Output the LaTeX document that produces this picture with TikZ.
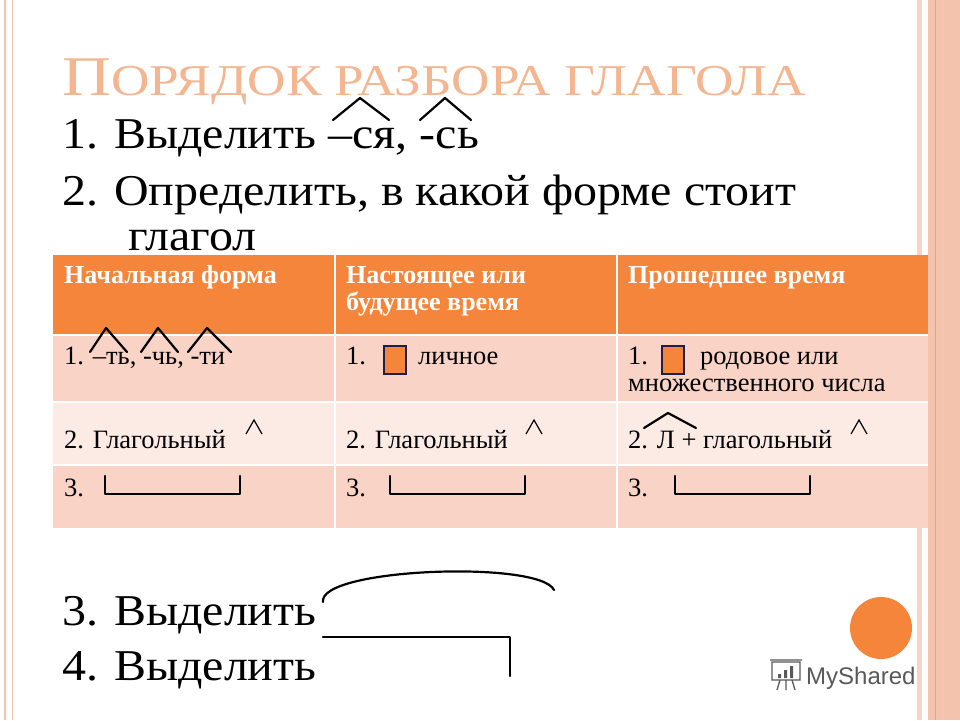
\documentclass[tikz,border=0pt]{standalone}
\usepackage{fontspec}
\setmainfont{Liberation Serif}
\newfontfamily\logofont{Liberation Sans}
\definecolor{ttl}{HTML}{F3B690}
\definecolor{hdr}{HTML}{F5853A}
\definecolor{rowa}{HTML}{F9D4C6}
\definecolor{rowb}{HTML}{FCEBE5}
\definecolor{brd}{HTML}{F4C3AE}
\definecolor{brdd}{HTML}{E8A27E}
\definecolor{navy}{HTML}{1E1E46}
\newcommand\wide[1]{\scalebox{1.09}[1]{#1}}
\tikzset{
 big/.style={anchor=base west,inner sep=0pt,font=\fontsize{44}{48}\selectfont},
 cell/.style={anchor=base west,inner sep=0pt,font=\fontsize{26.5}{28}\selectfont},
 hcell/.style={cell,text=white,font=\fontsize{26}{28}\selectfont\bfseries},
 pen/.style={line width=2.2pt,line cap=round,line join=round},
 ebox/.style={fill=hdr,draw=navy,line width=1.5pt}
}
\begin{document}
\begin{tikzpicture}[x=1pt,y=-1pt]
\fill[white] (0,0) rectangle (960,720);
\useasboundingbox (0,0) rectangle (960,720);
% borders
\draw[brd,line width=1.5pt] (5,0)--(5,720);
\draw[brd,line width=1pt] (12,0)--(12,720);
\fill[brd!70] (917,0) rectangle (922,720);
\fill[brd] (928,0) rectangle (960,720);
\draw[brdd,line width=1pt] (935,0)--(935,720);
\draw[brdd!60,line width=0.6pt] (943,0)--(943,720);
% title
\node[anchor=base west,inner sep=0pt,text=ttl] (title) at (62,95) {\scalebox{1.21}[1]{\fontsize{56}{58}\selectfont П\fontsize{44}{46}\selectfont ОРЯДОК РАЗБОРА ГЛАГОЛА}};
\node[big] (l1) at (62,148) {\wide{1. Выделить –ся, -сь}};
\node[big] (l2) at (62,205) {\wide{2. Определить, в какой форме стоит}};
\node[big] (l2b) at (128,250) {\wide{глагол}};
% table
\fill[hdr] (53,255) rectangle (928,335);
\fill[rowa] (53,335) rectangle (928,402);
\fill[rowb] (53,402) rectangle (928,465);
\fill[rowa] (53,465) rectangle (928,528);
\draw[white,line width=1.5pt] (335,255)--(335,528) (617,255)--(617,528) (53,335)--(928,335) (53,402)--(928,402) (53,465)--(928,465);
\node[hcell] (h1) at (64,283) {Начальная форма};
\node[hcell] (h2) at (346,283) {Настоящее или};
\node[hcell] (h2b) at (346,310) {будущее время};
\node[hcell] (h3) at (628,283) {Прошедшее время};
\node[cell] (a1) at (64,364) {1. –ть, -чь, -ти};
\node[cell] (a2) at (346,364) {1.};
\node[cell] (a2b) at (418,364) {личное};
\node[cell] (a3) at (628,364) {1.};
\node[cell] (a3b) at (700,364) {родовое или};
\node[cell] (a3c) at (628,391) {множественного числа};
\node[cell] (b1) at (64,448) {2. Глагольный};
\node[cell] (b2) at (346,448) {2. Глагольный};
\node[cell] (b3) at (628,448) {2. Л + глагольный};
\node[cell] (c1) at (64,496) {3.};
\node[cell] (c2) at (346,496) {3.};
\node[cell] (c3) at (628,496) {3.};
\draw[ebox] (384,346) rectangle (406,374);
\draw[ebox] (662,346) rectangle (684,374);
% marks
\draw[pen] (333,120)--(360,98)--(389,120);
\draw[pen] (420,120)--(445,98)--(471,120);
\draw[pen] (90,352)--(106,328)--(127,352);
\draw[pen] (141,352)--(158,328)--(178,352);
\draw[pen] (188,352)--(207,328)--(231,352);
\draw[line width=1.2pt] (246,434)--(254,420)--(262,434);
\draw[line width=1.2pt] (526,434)--(534,420)--(542,434);
\draw[line width=1.2pt] (851,434)--(859,420)--(867,434);
\draw[pen] (644,428)--(668,413)--(696,428);
\draw[pen] (105,476)--(105,494)--(240,494)--(240,476);
\draw[pen] (390,476)--(390,494)--(525,494)--(525,476);
\draw[pen] (675,476)--(675,494)--(810,494)--(810,476);
\node[big] (l3) at (62,625) {\wide{3. Выделить}};
\node[big] (l4) at (62,680) {\wide{4. Выделить}};
\draw[pen] (323,602) .. controls (318,568) and (540,560) .. (554,590);
\draw[pen] (323,637)--(510,637)--(510,676);
% decor
\fill[hdr] (881,628) circle (31);
\node[anchor=base west,inner sep=0pt,text=black!65,font=\logofont\fontsize{24}{26}\selectfont] (logo) at (806,684) {MyShared};
\draw[black!65,line width=1.3pt] (772,662) rectangle (800,680) (770,660)--(802,660) (780,680)--(777,690) (786,680)--(786,690) (792,680)--(795,690);
\fill[black!65] (778,674) rectangle (781,678) (784,670) rectangle (787,678) (790,666) rectangle (793,678);
\end{tikzpicture}
\end{document}
